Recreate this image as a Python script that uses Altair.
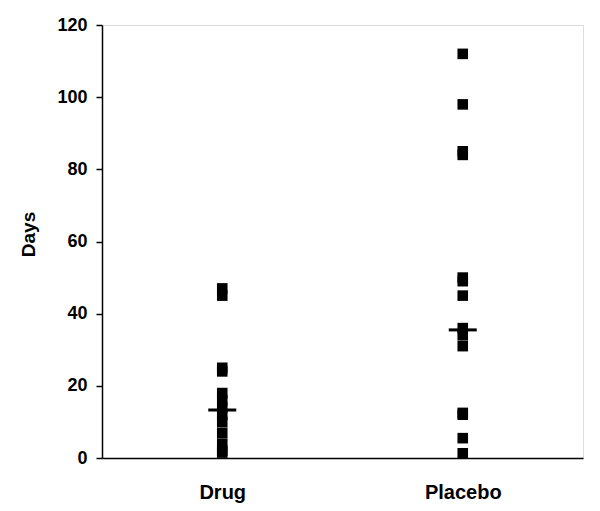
import altair as alt
import pandas as pd

categories = ["Drug", "Placebo"]
drug_values = [47, 45, 25, 24, 18, 16, 14, 12, 10, 7, 4, 2, 1.5]
placebo_values = [112, 98, 85, 84, 50, 49, 45, 36, 34, 31, 12.5, 12, 5.5, 1.3]
center_values = [13.3, 35.5]
y_ticks = [0, 20, 40, 60, 80, 100, 120]

pts = pd.DataFrame(
    [{"group": "Drug", "days": v} for v in drug_values]
    + [{"group": "Placebo", "days": v} for v in placebo_values]
)
centers = pd.DataFrame({"group": categories, "days": center_values})

FONT = "Liberation Sans"

x_enc = alt.X(
    "group:N",
    sort=categories,
    scale=alt.Scale(type="point", padding=0.5),
    axis=alt.Axis(
        title=None, ticks=False, labelAngle=0, labelFont=FONT, labelFontSize=20,
        labelFontWeight="bold", labelColor="black", labelPadding=24,
        domainColor="black", domainWidth=1.5, grid=False,
    ),
)
y_enc = alt.Y(
    "days:Q",
    scale=alt.Scale(domain=[0, 120], nice=False),
    axis=alt.Axis(
        title="Days", values=y_ticks, tickSize=6, tickColor="black", tickWidth=1.5,
        labelFont=FONT, labelFontSize=18, labelFontWeight="bold", labelColor="black",
        labelPadding=9, titleFont=FONT, titleFontSize=19, titleFontWeight="bold",
        titleColor="black", titlePadding=18, titleY=209, domainColor="black",
        domainWidth=1.5, grid=False,
    ),
)

squares = alt.Chart(pts).mark_square(size=112, color="black", opacity=1, filled=True).encode(
    x=x_enc, y=y_enc
)
lines = alt.Chart(centers).mark_tick(color="black", size=28, thickness=3, opacity=1).encode(
    x=alt.X("group:N", sort=categories), y="days:Q"
)

chart = (
    alt.layer(squares, lines)
    .properties(
        width=481,
        height=433,
        autosize=alt.AutoSizeParams(type="none"),
        padding={"left": 94, "top": 17, "right": 8, "bottom": 45},
    )
    .configure_view(stroke="black", strokeWidth=1.5)
    .configure(background="white")
)

chart.save("out.html", embed_options={"renderer": "svg", "actions": False})
